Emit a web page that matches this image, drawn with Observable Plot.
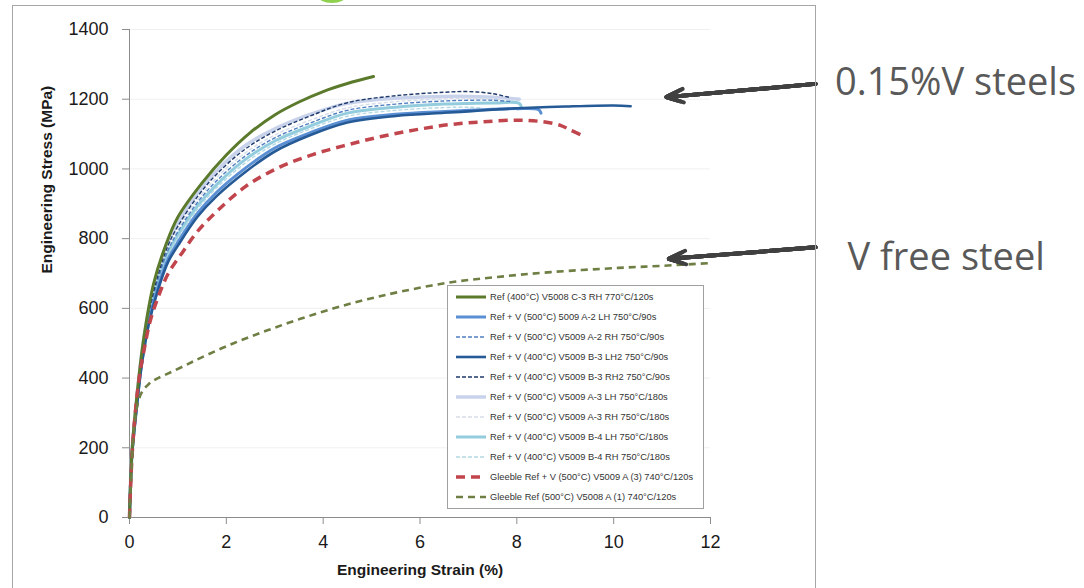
<!DOCTYPE html>
<html><head><meta charset="utf-8">
<script src="https://cdn.jsdelivr.net/npm/d3@7"></script>
<script src="https://cdn.jsdelivr.net/npm/@observablehq/plot@0.6"></script>
<style>
body{margin:0;background:#fff;}
#wrap{position:relative;width:1084px;height:588px;overflow:hidden;font-family:"Liberation Sans",Arial,sans-serif;}
#frame{position:absolute;left:12px;top:5px;width:802px;height:620px;border:1px solid #a6a6a6;pointer-events:none;}
#dot{position:absolute;left:318px;top:-11px;width:28px;height:14px;border-radius:50%;background:#8fd14f;}
#legend{position:absolute;left:447px;top:285px;width:255px;height:222px;border:1px solid #a0a0a0;background:#fff;}
#legend text{font-family:"Liberation Sans",Arial,sans-serif;font-size:9.3px;fill:#333;}
</style></head>
<body><div id="wrap"><div id="dot"></div><div id="frame"></div></div>
<script>
// ---------- data ----------
const seriesNames = [
  "Ref (400°C) V5008 C-3 RH 770°C/120s",
  "Ref + V (500°C) 5009 A-2 LH 750°C/90s",
  "Ref + V (500°C) V5009 A-2 RH 750°C/90s",
  "Ref + V (400°C) V5009 B-3 LH2 750°C/90s",
  "Ref + V (400°C) V5009 B-3 RH2 750°C/90s",
  "Ref + V (500°C) V5009 A-3 LH 750°C/180s",
  "Ref + V (500°C) V5009 A-3 RH 750°C/180s",
  "Ref + V (400°C) V5009 B-4 LH 750°C/180s",
  "Ref + V (400°C) V5009 B-4 RH 750°C/180s",
  "Gleeble Ref + V (500°C) V5009 A (3) 740°C/120s",
  "Gleeble Ref (500°C) V5008 A (1) 740°C/120s"
];

const strainC3 = [0, 0.05, 0.15, 0.3, 0.5, 0.75, 1.0, 1.5, 2.0, 2.5, 3.0, 3.5, 4.0, 4.5, 5.04];
const stressC3 = [0, 185, 345, 520, 672, 782, 862, 960, 1040, 1105, 1155, 1192, 1222, 1245, 1265];

const strainA2LH = [0, 0.05, 0.15, 0.25, 0.4, 0.6, 0.8, 1.0, 1.4, 1.8, 2.4, 3.0, 3.7, 4.5, 5.5, 6.5, 7.0, 7.5, 8.0, 8.45, 8.5];
const stressA2LH = [0, 178, 320, 440, 562, 665, 742, 790, 872, 933, 1003, 1060, 1102, 1140, 1157, 1165, 1168, 1171, 1173, 1170, 1160];

const strainA2RH = [0, 0.05, 0.15, 0.25, 0.4, 0.6, 0.8, 1.0, 1.4, 1.8, 2.4, 3.0, 3.7, 4.5, 5.5, 6.5, 7.0, 7.5, 7.9];
const stressA2RH = [0, 183, 330, 455, 580, 688, 768, 820, 903, 966, 1038, 1089, 1130, 1168, 1186, 1195, 1197, 1197, 1193];

const strainB3LH2 = [0, 0.05, 0.15, 0.25, 0.4, 0.6, 0.8, 1.0, 1.4, 1.8, 2.4, 3.0, 3.7, 4.5, 5.5, 6.5, 7.0, 7.5, 8.0, 9.0, 10.0, 10.35];
const stressB3LH2 = [0, 176, 316, 435, 556, 658, 734, 780, 862, 922, 992, 1050, 1095, 1133, 1152, 1161, 1165, 1170, 1174, 1179, 1182, 1180];

const strainB3RH2 = [0, 0.05, 0.15, 0.25, 0.4, 0.6, 0.8, 1.0, 1.4, 1.8, 2.4, 3.0, 3.7, 4.5, 5.5, 6.5, 7.0, 7.5, 7.85];
const stressB3RH2 = [0, 185, 336, 462, 590, 700, 782, 836, 920, 985, 1058, 1108, 1150, 1190, 1210, 1220, 1222, 1216, 1205];

const strainA3LH = [0, 0.05, 0.15, 0.25, 0.4, 0.6, 0.8, 1.0, 1.4, 1.8, 2.4, 3.0, 3.7, 4.5, 5.5, 6.5, 7.0, 7.5, 8.05];
const stressA3LH = [0, 188, 340, 468, 598, 708, 790, 845, 930, 995, 1068, 1115, 1155, 1188, 1203, 1208, 1208, 1206, 1200];

const strainA3RH = [0, 0.05, 0.15, 0.25, 0.4, 0.6, 0.8, 1.0, 1.4, 1.8, 2.4, 3.0, 3.7, 4.5, 5.5, 6.5, 7.0, 7.5, 8.0];
const stressA3RH = [0, 184, 333, 458, 585, 693, 775, 828, 911, 975, 1047, 1097, 1138, 1175, 1193, 1201, 1203, 1201, 1196];

const strainB4LH = [0, 0.05, 0.15, 0.25, 0.4, 0.6, 0.8, 1.0, 1.4, 1.8, 2.4, 3.0, 3.7, 4.5, 5.5, 6.5, 7.0, 7.5, 8.05, 8.1];
const stressB4LH = [0, 181, 327, 450, 573, 680, 760, 810, 893, 955, 1028, 1080, 1121, 1160, 1177, 1186, 1188, 1189, 1188, 1175];

const strainB4RH = [0, 0.05, 0.15, 0.25, 0.4, 0.6, 0.8, 1.0, 1.4, 1.8, 2.4, 3.0, 3.7, 4.5, 5.5, 6.5, 7.0, 7.3];
const stressB4RH = [0, 180, 324, 446, 568, 674, 752, 802, 884, 946, 1018, 1071, 1113, 1151, 1168, 1176, 1177, 1174];

const strainGA3 = [0, 0.05, 0.12, 0.2, 0.3, 0.43, 0.6, 0.8, 1.1, 1.4, 1.8, 2.4, 3.1, 3.8, 4.5, 5.2, 5.9, 6.6, 7.3, 8.0, 8.5, 8.9, 9.1, 9.32];
const stressGA3 = [0, 170, 300, 400, 480, 565, 635, 700, 762, 820, 878, 950, 1005, 1042, 1069, 1093, 1112, 1127, 1135, 1140, 1136, 1125, 1112, 1098];

const strainGA1 = [0, 0.05, 0.1, 0.16, 0.25, 0.4, 0.55, 0.78, 1.1, 1.47, 2.15, 2.85, 3.53, 4.22, 4.91, 5.6, 6.6, 7.6, 8.7, 10.1, 11.0, 12.0];
const stressGA1 = [0, 160, 260, 320, 358, 383, 397, 412, 433, 458, 500, 537, 570, 600, 626, 648, 674, 690, 704, 716, 722, 730];

const xTicks = [0, 2, 4, 6, 8, 10, 12];
const yTicks = [0, 200, 400, 600, 800, 1000, 1200, 1400];
const xLabel = "Engineering Strain (%)";
const yLabel = "Engineering Stress (MPa)";

const noteText = ["0.15%V steels", "V free steel"];
const noteX = [14.57, 14.83];
const noteY = [1246, 744];
const arrowX1 = [14.17, 14.17];
const arrowY1 = [1244, 775];
const arrowX2 = [11.09, 11.14];
const arrowY2 = [1206, 742];

// ---------- styles ----------
const styles = [
  {stroke: "#5b7a2c", width: 3, dash: null},
  {stroke: "#5b8fd3", width: 3, dash: null},
  {stroke: "#4f7fc0", width: 1.4, dash: "4,2"},
  {stroke: "#255a96", width: 2.6, dash: null},
  {stroke: "#1f3a6b", width: 1.4, dash: "4,2"},
  {stroke: "#c8d3eb", width: 3.5, dash: null},
  {stroke: "#d6dde9", width: 1.4, dash: "4,2"},
  {stroke: "#93cddd", width: 3, dash: null},
  {stroke: "#b2d9e3", width: 1.4, dash: "4,2"},
  {stroke: "#c0454c", width: 3.5, dash: "9,6"},
  {stroke: "#6f7f44", width: 2.6, dash: "7,5"}
];

const strains = [strainC3, strainA2LH, strainA2RH, strainB3LH2, strainB3RH2, strainA3LH, strainA3RH, strainB4LH, strainB4RH, strainGA3, strainGA1];
const stresses = [stressC3, stressA2LH, stressA2RH, stressB3LH2, stressB3RH2, stressA3LH, stressA3RH, stressB4LH, stressB4RH, stressGA3, stressGA1];

const series = seriesNames.map((name, i) => strains[i].map((s, j) => ({name, strain: s, stress: stresses[i][j]})));
const notes = noteText.map((t, i) => ({t, x: noteX[i], y: noteY[i]}));
const arrows = arrowX1.map((x1, i) => ({x1, y1: arrowY1[i], x2: arrowX2[i], y2: arrowY2[i]}));

const drawOrder = [5, 6, 7, 8, 2, 4, 1, 3, 0, 9, 10];
const arrowStyle = {x1: "x1", y1: "y1", x2: "x2", y2: "y2", stroke: "#404040", strokeWidth: 4, headAngle: 44, strokeLinejoin: "miter"};
const headLayers = [6.8, 5.6, 4.4, 3.2, 2.0, 1.0];

const marks = [
  Plot.gridY(yTicks, {stroke: "#f0f0f0", strokeOpacity: 1}),
  Plot.axisY({ticks: yTicks, tickFormat: "d", tickSize: 7, tickPadding: 14, fontSize: 18, label: null, stroke: "#8c8c8c", fill: "#1a1a1a"}),
  Plot.axisX({ticks: xTicks, tickFormat: "d", tickSize: 7, tickPadding: 11, fontSize: 18, label: null, stroke: "#8c8c8c", fill: "#1a1a1a"}),
  Plot.ruleX([0], {stroke: "#8c8c8c"}),
  Plot.ruleY([0], {stroke: "#8c8c8c"}),
  ...drawOrder.map(i => Plot.line(series[i], {
    x: "strain", y: "stress", curve: "catmull-rom",
    stroke: styles[i].stroke, strokeWidth: styles[i].width,
    strokeDasharray: styles[i].dash ?? undefined, strokeLinecap: styles[i].dash ? "butt" : "round"
  })),
  Plot.text([yLabel], {frameAnchor: "left", dx: -82, rotate: -90, fontSize: 15.5, fontWeight: "bold", fill: "#1a1a1a"}),
  Plot.text([xLabel], {frameAnchor: "bottom", dy: 57, fontSize: 15.5, fontWeight: "bold", fill: "#1a1a1a"}),
  ...headLayers.map(h => Plot.arrow(arrows, {...arrowStyle, headLength: h})),
  Plot.text(notes, {x: "x", y: "y", text: "t", textAnchor: "start", fontSize: 38, fill: "#595959", fontFamily: "Open Sans"})
];

const chart = Plot.plot({
  width: 1084, height: 588,
  marginLeft: 129, marginRight: 374, marginTop: 29, marginBottom: 71,
  x: {domain: [0, 12]},
  y: {domain: [0, 1400]},
  style: {fontFamily: "'Liberation Sans', Arial, sans-serif", background: "transparent", overflow: "visible"},
  marks
});
const wrap = document.getElementById("wrap");
chart.style.position = "absolute";
chart.style.left = "0px";
chart.style.top = "0px";
wrap.insertBefore(chart, wrap.firstChild);

// legend
const ns = "http://www.w3.org/2000/svg";
const leg = document.createElement("div");
leg.id = "legend";
const lsvg = document.createElementNS(ns, "svg");
lsvg.setAttribute("width", 255);
lsvg.setAttribute("height", 222);
seriesNames.forEach((name, i) => {
  const y = 11 + i * 20;
  const ln = document.createElementNS(ns, "line");
  ln.setAttribute("x1", 8); ln.setAttribute("x2", 38);
  ln.setAttribute("y1", y); ln.setAttribute("y2", y);
  ln.setAttribute("stroke", styles[i].stroke);
  ln.setAttribute("stroke-width", styles[i].width);
  if (styles[i].dash) ln.setAttribute("stroke-dasharray", styles[i].dash);
  lsvg.appendChild(ln);
  const tx = document.createElementNS(ns, "text");
  tx.setAttribute("x", 42); tx.setAttribute("y", y + 3);
  tx.textContent = name;
  lsvg.appendChild(tx);
});
leg.appendChild(lsvg);
wrap.appendChild(leg);
</script></body></html>
